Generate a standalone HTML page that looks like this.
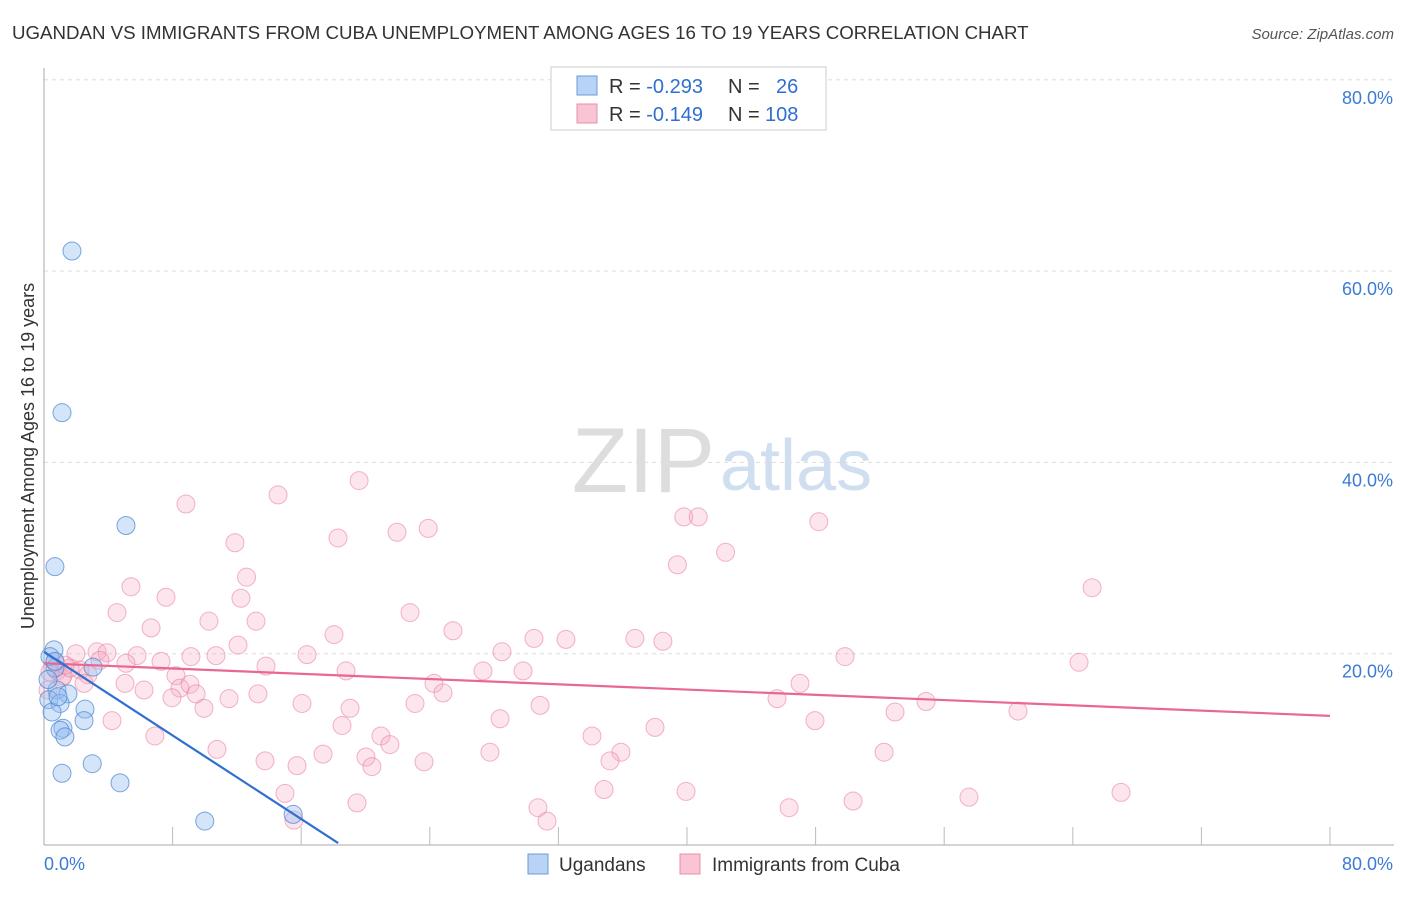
<!DOCTYPE html>
<html><head><meta charset="utf-8"><style>
body{margin:0;background:#fff;font-family:"Liberation Sans",sans-serif;}
svg text{font-family:"Liberation Sans",sans-serif;}
</style></head><body>
<svg id="c" width="1406" height="892">
<text x="12" y="39" font-size="18.7" fill="#333">UGANDAN VS IMMIGRANTS FROM CUBA UNEMPLOYMENT AMONG AGES 16 TO 19 YEARS CORRELATION CHART</text>
<text x="1394" y="39" font-size="15" fill="#555" text-anchor="end" font-style="italic">Source: ZipAtlas.com</text>
<text x="715" y="492" font-size="92" fill="#ddd" text-anchor="end" font-family="Liberation Serif">ZIP</text>
<text x="720" y="490" font-size="72" fill="#cfdff0">atlas</text>
<text transform="translate(34,456) rotate(-90)" font-size="18" fill="#333" text-anchor="middle">Unemployment Among Ages 16 to 19 years</text>
<g id="grid"></g><g id="pts"></g><g id="lines"></g>
<g>
<rect x="551" y="67" width="275" height="63" fill="#fff" stroke="#ccc"/>
<rect x="577" y="76" width="20" height="19" fill="#b8d3f5" stroke="#6a9bd8"/>
<rect x="577" y="104" width="20" height="19" fill="#f9c4d3" stroke="#e88fa9"/>
<text x="609" y="93" font-size="20" fill="#333">R = <tspan fill="#2f6fcf">-0.293</tspan><tspan x="728">N = </tspan><tspan x="776" fill="#2f6fcf">26</tspan></text>
<text x="609" y="121" font-size="20" fill="#333">R = <tspan fill="#2f6fcf"> -0.149</tspan><tspan x="728">N = </tspan><tspan x="765" fill="#2f6fcf">108</tspan></text>
</g>
<g>
<rect x="528" y="854" width="20" height="20" fill="#b8d3f5" stroke="#6a9bd8"/>
<text x="559" y="871" font-size="19" fill="#333">Ugandans</text>
<rect x="680" y="854" width="20" height="20" fill="#f9c4d3" stroke="#e88fa9"/>
<text x="712" y="871" font-size="19" fill="#333">Immigrants from Cuba</text>
</g>
</svg>
<script>
const yTicks=[20,40,60,80];
const yTickLabels=["20.0%","40.0%","60.0%","80.0%"];
const ugX=[1.74,1.12,5.1,0.68,0.62,0.37,0.68,3.05,0.81,1.49,0.3,1.0,0.5,2.55,2.49,1.18,1.0,1.3,3.0,1.12,4.73,10.0,15.5,0.25,0.68,0.87];
const ugY=[62.1,45.2,33.4,29.1,20.4,19.7,18.5,18.6,16.2,15.8,15.2,14.8,13.9,14.2,13.0,12.2,12.0,11.3,8.5,7.5,6.5,2.5,3.2,17.3,19.2,15.5];
const cuX=[8.83,14.56,19.6,11.88,18.29,21.96,23.9,39.8,40.7,48.2,39.4,42.4,65.2,5.41,12.6,7.59,12.25,4.54,10.26,13.19,22.77,6.66,18.04,25.44,12.07,30.48,32.47,36.76,38.5,1.99,3.3,3.92,5.79,7.28,9.14,10.7,16.36,28.49,64.39,49.83,5.1,13.81,18.79,27.31,29.8,8.21,2.24,0.81,1.18,2.74,5.04,6.22,8.46,9.08,9.46,7.96,9.95,11.51,13.31,16.05,19.04,23.08,24.26,24.82,30.86,47.03,45.6,52.94,54.87,60.59,28.37,18.54,20.96,21.52,4.23,6.9,10.76,13.75,15.74,17.36,20.03,20.4,23.64,27.74,34.09,38.01,35.89,35.21,47.96,52.26,14.99,15.55,19.47,30.73,31.29,34.84,39.94,46.35,50.33,57.54,67.0,0.68,1.12,1.62,0.37,0.25,3.48,2.49,1.31];
const cuY=[35.65,36.6,38.1,31.6,32.1,32.7,33.1,34.3,34.3,33.8,29.3,30.6,26.9,27.0,28.0,25.9,25.8,24.3,23.4,23.4,24.3,22.7,22.0,22.4,20.9,21.6,21.5,21.6,21.3,20.0,20.2,20.1,19.8,19.2,19.7,19.8,19.9,20.2,19.1,19.7,19.0,18.7,18.2,18.2,18.2,17.7,18.3,18.2,17.7,17.8,16.9,16.2,16.4,16.8,15.8,15.4,14.3,15.3,15.8,14.8,14.3,14.8,16.9,15.9,14.6,16.9,15.3,13.9,15.0,14.0,13.2,12.5,11.4,10.5,13.0,11.4,10.0,8.8,8.3,9.5,9.2,8.2,8.7,9.7,11.4,12.3,9.7,8.8,13.0,9.7,5.4,2.6,4.4,3.9,2.5,5.8,5.6,3.9,4.6,5.0,5.5,19.1,17.5,18.5,18.1,16.2,19.3,16.9,18.8];
const ugTrend=[20.2,0.2,18.3];
const cuTrend=[19.0,13.5,80];
const X=v=>44+v/80*1286, Y=v=>845-v*9.565;
const NS="http://www.w3.org/2000/svg";
function mk(t,a,p){const e=document.createElementNS(NS,t);for(const k in a)e.setAttribute(k,a[k]);p.appendChild(e);return e;}
const g=document.getElementById('grid');
yTicks.forEach((t,i)=>{
 const l=mk('line',{x1:44,x2:1394,y1:Y(t),y2:Y(t),stroke:'#ddd','stroke-dasharray':'4,4'},g);
 
 
 const tx=mk('text',{x:1393,y:Y(t)+24,'font-size':18,fill:'#3b7bd4','text-anchor':'end'},g);tx.textContent=yTickLabels[i];
 
 
});
let ax=mk('line',{x1:44,x2:44,y1:68,y2:845,stroke:'#aaa'},g);


ax=mk('line',{x1:44,x2:1394,y1:845,y2:845,stroke:'#aaa'},g);


for(let i=1;i<=10;i++){const t=mk('line',{x1:X(i*8),x2:X(i*8),y1:827,y2:845,stroke:'#bbb'},g);
 
 }
let t0=mk('text',{x:44,y:870,'font-size':18,fill:'#3b7bd4'},g);t0.textContent='0.0%';


t0=mk('text',{x:1393,y:870,'font-size':18,fill:'#3b7bd4','text-anchor':'end'},g);t0.textContent='80.0%';


const p=document.getElementById('pts');
cuX.forEach((v,i)=>{const c=mk('circle',{cx:X(v),cy:Y(cuY[i]),r:9,fill:'rgba(246,170,195,0.3)',stroke:'rgba(232,120,155,0.55)','stroke-width':1},p);
 
 });
ugX.forEach((v,i)=>{const c=mk('circle',{cx:X(v),cy:Y(ugY[i]),r:9,fill:'rgba(150,190,240,0.4)',stroke:'rgba(70,130,210,0.7)','stroke-width':1},p);
 
 });
const L=document.getElementById('lines');
let ln=mk('line',{x1:X(0),y1:Y(cuTrend[0]),x2:X(cuTrend[2]),y2:Y(cuTrend[1]),stroke:'#e8688f','stroke-width':2.2},L);


ln=mk('line',{x1:X(0),y1:Y(ugTrend[0]),x2:X(ugTrend[2]),y2:Y(ugTrend[1]),stroke:'#2f6fcf','stroke-width':2.2},L);


</script>
</body></html>
